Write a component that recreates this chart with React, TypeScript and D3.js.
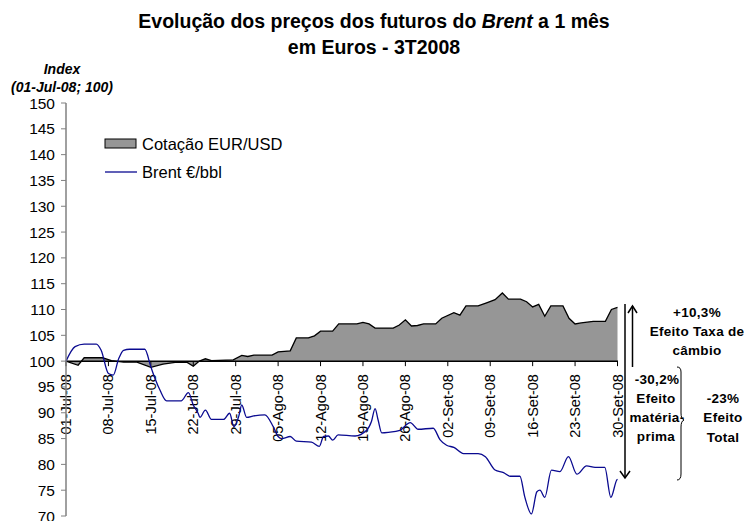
import React from "react";
import * as d3 from "d3";

// Day offsets from 01-Jul-08
const areaDays = [0, 2, 3, 6, 7.5, 9.5, 11.7, 14, 16, 18, 20, 21, 22, 23, 24, 27.6, 29, 30, 31, 34, 35, 37, 38, 40, 41, 42, 44, 45, 48, 49, 50, 51, 54, 55, 56, 57, 58, 59, 61, 62, 64, 65, 66, 68, 69.4, 70.8, 72, 73, 75, 76, 77, 78, 79, 80, 82, 83, 84, 85, 87, 89, 90, 91];
const areaValues = [100, 99.2, 100.65, 100.65, 100.1, 99.8, 99.8, 98.8, 99.4, 99.75, 99.75, 99.0, 100, 100.45, 100.1, 100.25, 101.1, 100.9, 101.15, 101.15, 101.8, 102.0, 104.5, 104.5, 104.9, 105.8, 105.8, 107.2, 107.2, 107.5, 107.2, 106.4, 106.4, 107.0, 108.0, 106.8, 106.9, 107.2, 107.2, 108.3, 109.4, 108.9, 110.7, 110.7, 111.3, 111.9, 113.2, 112.0, 112.0, 111.5, 110.5, 111.0, 108.7, 110.7, 110.7, 108.3, 107.2, 107.4, 107.7, 107.7, 110.0, 110.4];

const brentDays = [0, 1.5, 3, 5, 5.8, 7, 7.8, 8.7, 9.5, 10.5, 13, 14, 14.7, 15.5, 16.6, 19, 20.2, 21, 21.8, 22.1, 23, 24, 26, 27, 27.7, 28.5, 29, 29.8, 31, 32.8, 34.2, 35, 35.6, 37, 38, 40.5, 41.8, 42.5, 43.3, 44, 44.9, 47.7, 49.6, 50.4, 51, 51.5, 52.1, 53.2, 55.1, 56.8, 58.1, 60.6, 61.7, 62.8, 64, 65.6, 68, 69.2, 70.8, 72.2, 73.3, 74.9, 75.7, 76.8, 77.7, 78.2, 79, 80.1, 81.5, 82.9, 84.3, 85.9, 87.3, 88.9, 89.9, 90.9, 91];
const brentValues = [100, 102.8, 103.3, 103.3, 102.1, 97.6, 97.3, 100.5, 102.1, 102.3, 102.3, 98.9, 96.6, 94.4, 92.3, 92.3, 93.9, 91.5, 89.9, 89.1, 90.5, 88.7, 88.7, 89.9, 87.3, 89.3, 91.5, 89.1, 89.4, 89.6, 87.3, 85.4, 85.0, 85.4, 84.5, 84.3, 83.5, 85.4, 85.5, 84.7, 85.7, 85.5, 86.6, 88.3, 90.8, 88.6, 86.1, 86.2, 86.6, 88.1, 86.8, 87.0, 84.8, 83.7, 83.3, 82.1, 82.1, 81.5, 78.9, 78.4, 77.7, 77.7, 73.7, 70.4, 74.7, 75.0, 73.6, 78.9, 78.6, 81.5, 78.1, 79.7, 79.4, 79.4, 73.6, 77.0, 77.1];

const xTickDays = [0, 7, 14, 21, 28, 35, 42, 49, 56, 63, 70, 77, 84, 91];
const xTickLabels = ["01-Jul-08", "08-Jul-08", "15-Jul-08", "22-Jul-08", "29-Jul-08", "05-Ago-08", "12-Ago-08", "19-Ago-08", "26-Ago-08", "02-Set-08", "09-Set-08", "16-Set-08", "23-Set-08", "30-Set-08"];
const yTicks = [70, 75, 80, 85, 90, 95, 100, 105, 110, 115, 120, 125, 130, 135, 140, 145, 150];

const seriesNames = ["Cotação EUR/USD", "Brent €/bbl"];

export default function App() {
  const W = 747, H = 521;
  const x = d3.scaleLinear().domain([0, 91]).range([66, 617.5]);
  const y = d3.scaleLinear().domain([70, 150]).range([516, 103]);
  const font = "'Liberation Sans', Arial, sans-serif";

  const areaData = areaDays.map((d, i) => [d, areaValues[i]] as [number, number]);
  const brentData = brentDays.map((d, i) => [d, brentValues[i]] as [number, number]);

  const areaGen = d3.area<[number, number]>().x(d => x(d[0])).y0(y(100)).y1(d => y(d[1]));
  const lineGen = d3.line<[number, number]>().x(d => x(d[0])).y(d => y(d[1]));
  const brentGen = d3.line<[number, number]>().x(d => x(d[0])).y(d => y(d[1])).curve(d3.curveMonotoneX);

  const boldText = { fontFamily: font, fontWeight: 700, fontSize: 13.5, fill: "#000", letterSpacing: 0.3 } as const;

  return (
    <svg width={W} height={H} style={{ position: "absolute", left: 0, top: 0 }} fontFamily={font}>
      <rect x={0} y={0} width={W} height={H} fill="#fff" />
      {/* Title */}
      <text x={374} y={28} textAnchor="middle" fontSize={19.5} fontWeight={700}>
        Evolução dos preços dos futuros do <tspan fontStyle="italic">Brent</tspan> a 1 mês
      </text>
      <text x={374} y={53.5} textAnchor="middle" fontSize={19.5} fontWeight={700}>em Euros - 3T2008</text>
      {/* Y-axis title */}
      <text x={62} y={74} textAnchor="middle" fontSize={14} fontWeight={700} fontStyle="italic">Index</text>
      <text x={62} y={92} textAnchor="middle" fontSize={14} fontWeight={700} fontStyle="italic">(01-Jul-08; 100)</text>

      {/* Area */}
      <path d={areaGen(areaData) || ""} fill="#969696" stroke="none" />
      <path d={lineGen(areaData) || ""} fill="none" stroke="#000" strokeWidth={1.3} />

      {/* X axis at 100 */}
      <line x1={66} x2={618} y1={y(100)} y2={y(100)} stroke="#000" strokeWidth={1.5} />
      {xTickDays.map((d, i) => (
        <g key={i}>
          <line x1={x(d)} x2={x(d)} y1={y(100)} y2={y(100) + 5} stroke="#000" strokeWidth={1} />
          <text transform={`translate(${x(d)},${y(100) + 13}) rotate(-90)`} textAnchor="end" dominantBaseline="central" fontSize={14.5}>{xTickLabels[i]}</text>
        </g>
      ))}

      {/* Brent line */}
      <path d={brentGen(brentData) || ""} fill="none" stroke="#0a0a90" strokeWidth={1.3} />

      {/* Y axis */}
      <line x1={66} x2={66} y1={y(150)} y2={y(70)} stroke="#808080" strokeWidth={1.5} />
      {yTicks.map(t => (
        <g key={t}>
          <line x1={61} x2={66} y1={y(t)} y2={y(t)} stroke="#808080" strokeWidth={1} />
          <text x={55} y={y(t)} textAnchor="end" dominantBaseline="central" fontSize={15.5}>{t}</text>
        </g>
      ))}

      {/* Legend */}
      <rect x={105} y={139} width={31} height={9} fill="#969696" stroke="#000" strokeWidth={1} />
      <text x={142} y={144} dominantBaseline="central" fontSize={16.5}>{seriesNames[0]}</text>
      <line x1={105} x2={137} y1={172} y2={172} stroke="#0a0a90" strokeWidth={1.3} />
      <text x={142} y={172} dominantBaseline="central" fontSize={16.5}>{seriesNames[1]}</text>

      {/* Annotations */}
      <line x1={625} x2={625} y1={304} y2={478} stroke="#000" strokeWidth={1.5} />
      <path d="M620,471 L625,478 L630,471" fill="none" stroke="#000" strokeWidth={1.5} />
      <line x1={632.5} x2={632.5} y1={306} y2={367} stroke="#000" strokeWidth={1.5} />
      <path d="M628,313 L632.5,306 L637,313" fill="none" stroke="#000" strokeWidth={1.5} />

      <text x={697} y={312} textAnchor="middle" dominantBaseline="central" {...boldText}>+10,3%</text>
      <text x={697} y={331} textAnchor="middle" dominantBaseline="central" {...boldText}>Efeito Taxa de</text>
      <text x={697} y={350} textAnchor="middle" dominantBaseline="central" {...boldText}>câmbio</text>

      <text x={657} y={379} textAnchor="middle" dominantBaseline="central" {...boldText}>-30,2%</text>
      <text x={656} y={398} textAnchor="middle" dominantBaseline="central" {...boldText}>Efeito</text>
      <text x={657} y={417} textAnchor="middle" dominantBaseline="central" {...boldText}>matéria-</text>
      <text x={656} y={436} textAnchor="middle" dominantBaseline="central" {...boldText}>prima</text>

      <path d="M677,367 Q681,367 681,372 L681,413 Q681,419 684,420 Q681,421 681,427 L681,474 Q681,480 677,480" fill="none" stroke="#000" strokeWidth={1} />

      <text x={723} y={398} textAnchor="middle" dominantBaseline="central" {...boldText}>-23%</text>
      <text x={723} y={417} textAnchor="middle" dominantBaseline="central" {...boldText}>Efeito</text>
      <text x={723} y={437} textAnchor="middle" dominantBaseline="central" {...boldText}>Total</text>
    </svg>
  );
}
